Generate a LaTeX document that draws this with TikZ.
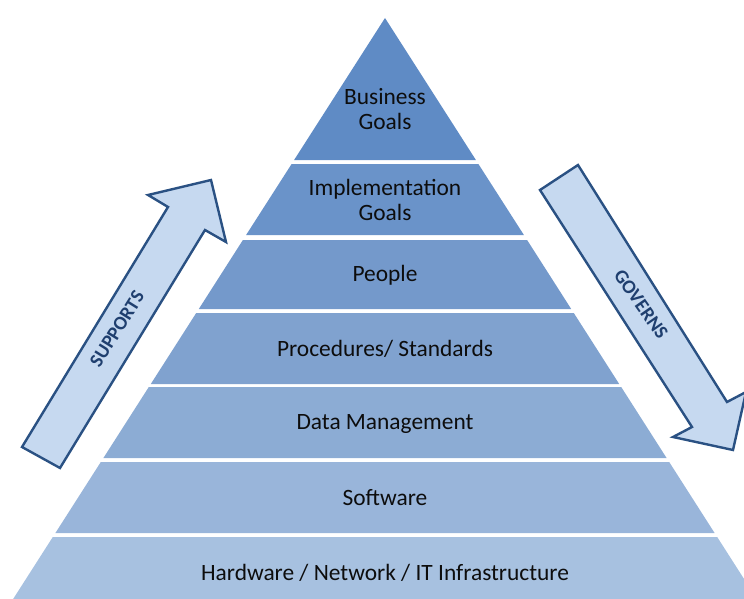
\documentclass[tikz,border=0pt]{standalone}
\usepackage{fontspec}
\setmainfont{Carlito}
\definecolor{cA}{HTML}{5F8BC5}
\definecolor{cB}{HTML}{6A93C9}
\definecolor{cC}{HTML}{7499CB}
\definecolor{cD}{HTML}{80A2CF}
\definecolor{cE}{HTML}{8CACD4}
\definecolor{cF}{HTML}{99B5DA}
\definecolor{cG}{HTML}{A7C1E0}
\definecolor{arrowfill}{HTML}{C6D9F0}
\definecolor{arrowline}{HTML}{2A5183}
\definecolor{arrowtext}{HTML}{1F3F6F}
\definecolor{lbltext}{HTML}{0D0D0D}
\begin{document}
\begin{tikzpicture}[x=1pt,y=-1pt,
  layer/.style={fill=#1,draw=none},
  lbl/.style={font=\fontsize{23.4}{25.5}\selectfont,text=lbltext,align=center,inner sep=0pt},
  bigarrow/.style={fill=arrowfill,draw=arrowline,line width=2.4pt,line join=miter},
  arrlbl/.style={font=\bfseries\fontsize{19.5}{19.5}\selectfont,text=arrowtext,inner sep=0pt}]
\useasboundingbox (0,0) rectangle (744,599);
\clip (0,0) rectangle (744,599);
% pyramid layers
\path[layer=cA] (385,18) -- (475.9,160) -- (294.1,160) -- cycle;
\path[layer=cB] (291.6,164) -- (478.4,164) -- (523.9,235) -- (246.1,235) -- cycle;
\path[layer=cC] (242.9,240) -- (527.1,240) -- (571.2,309) -- (198.8,309) -- cycle;
\path[layer=cD] (196.2,313) -- (573.8,313) -- (619.2,384) -- (150.8,384) -- cycle;
\path[layer=cE] (148.8,387) -- (621.2,387) -- (666.6,458) -- (103.4,458) -- cycle;
\path[layer=cF] (100.8,462) -- (669.2,462) -- (714.6,533) -- (55.4,533) -- cycle;
\path[layer=cG] (52.8,537) -- (717.2,537) -- (770.3,620) -- (-0.3,620) -- cycle;
% layer labels
\node[lbl] (business) at (385,109) {Business\\Goals};
\node[lbl] (implementation) at (385,200) {Implementation\\Goals};
\node[lbl] (people) at (385,275) {People};
\node[lbl] (procedures) at (385,349) {Procedures/ Standards};
\node[lbl] (data) at (385,424) {Data Management};
\node[lbl] (software) at (385,498) {Software};
\node[lbl] (hardware) at (385,573) {Hardware / Network / IT Infrastructure};
% supports arrow
\draw[bigarrow] (22,447) -- (168,207) -- (148,195) -- (211,180) -- (226,242) -- (205,230) -- (60,468) -- cycle;
\node[arrlbl,rotate=58] (supports) at (117,329) {SUPPORTS};
% governs arrow
\draw[bigarrow] (578,165) -- (727,402) -- (746,392) -- (733,450) -- (673,437) -- (692,427) -- (540,190) -- cycle;
\node[arrlbl,rotate=-55] (governs) at (641,304) {GOVERNS};
\end{tikzpicture}
\end{document}
